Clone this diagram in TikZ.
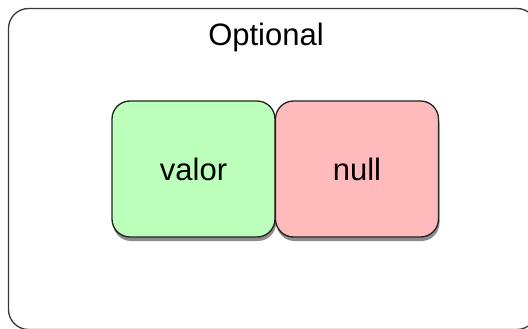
\documentclass[tikz,border=0pt]{standalone}
\usepackage{fontspec}
\setmainfont{Liberation Sans}
\usetikzlibrary{shadows,fit}
\definecolor{valgreen}{HTML}{BBFFBB}
\definecolor{nullred}{HTML}{FFBBBB}
\definecolor{edge}{HTML}{222222}
\tikzset{
  cell/.style={draw=edge, line width=1.3pt, rounded corners=18pt, minimum width=163pt, minimum height=136pt, inner sep=0pt,
    font=\fontsize{31}{36}\selectfont,
    drop shadow={shadow xshift=1pt, shadow yshift=-4pt, opacity=0.45, fill=black}},
  frame/.style={draw=edge!90, line width=1.3pt, rounded corners=20pt},
  title/.style={font=\fontsize{31}{36}\selectfont, inner sep=0pt}
}
\begin{document}
\begin{tikzpicture}[x=1pt,y=-1pt]
\useasboundingbox (0,0) rectangle (528,329);
\begin{scope}
\clip (0,0) rectangle (528,329);
\draw[frame] (8.5,8.5) rectangle (537,329.5);
\end{scope}
\node[title] (opt) at (266,37) {Optional};
\node[cell, fill=valgreen] (valor) at (193.5,169) {valor};
\node[cell, fill=nullred] (null) at (357,169) {null};
\end{tikzpicture}
\end{document}
